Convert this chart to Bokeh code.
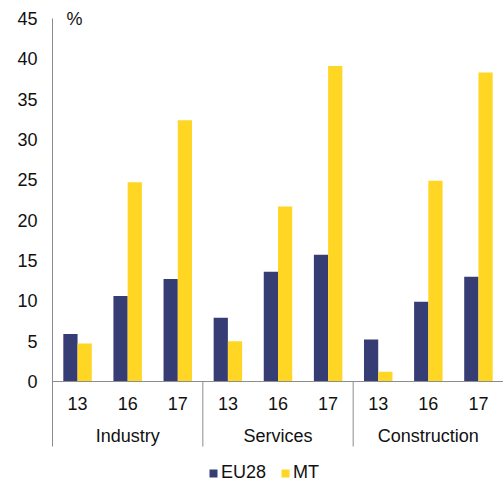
from bokeh.plotting import figure
from bokeh.models import FactorRange, Range1d, FixedTicker, Span, Label, Legend, ColumnDataSource
from bokeh.transform import dodge
from bokeh.core.properties import value
from bokeh.embed import file_html
from bokeh.resources import INLINE

# sectors and years shown on the category axis
groups = ["Industry", "Services", "Construction"]
years = ["13", "16", "17"]

# values in %, one per sector/year
eu28 = [5.9, 10.6, 12.7, 7.9, 13.6, 15.7, 5.2, 9.9, 13.0]
mt = [4.7, 24.7, 32.4, 5.0, 21.7, 39.1, 1.2, 24.9, 38.3]

y_ticks = [0, 5, 10, 15, 20, 25, 30, 35, 40, 45]

navy = "#363C74"
yellow = "#FFD624"
grey = "#8C8C8C"
txt = "#111111"
font = "Liberation Sans"

# the frame goes on below zero to hold the category labels and the legend
y_top = 45
y_end = 46.24
y_sep = -8.06
y_bottom = -12.64

factors = [(g, y) for g in groups for y in years]
src = ColumnDataSource(data=dict(x=factors, eu28=eu28, mt=mt, year=[f[1] for f in factors],
                                 zero=[0] * len(factors)))

p = figure(x_range=FactorRange(factors=factors, factor_padding=0, group_padding=0, range_padding=0),
           y_range=Range1d(start=y_bottom, end=y_end),
           width=503, height=483, output_backend="svg", toolbar_location=None,
           min_border_left=52, min_border_top=8, min_border_right=0, min_border_bottom=0)
p.outline_line_color = None
p.xgrid.visible = False
p.ygrid.visible = False
p.xaxis.visible = False

# y axis, its line runs on down as the left edge of the first group
p.yaxis.ticker = FixedTicker(ticks=y_ticks)
p.yaxis.bounds = (y_sep, y_top)
p.yaxis.axis_line_color = grey
p.yaxis.major_tick_line_color = None
p.yaxis.minor_tick_line_color = None
p.yaxis.major_tick_out = 0
p.yaxis.major_label_standoff = 15
p.yaxis.major_label_text_font = font
p.yaxis.major_label_text_font_size = "18px"
p.yaxis.major_label_text_color = txt

# bars
r1 = p.vbar(x=dodge("x", -0.142, range=p.x_range), top="eu28", width=0.284,
            source=src, fill_color=navy, line_color=None)
r2 = p.vbar(x=dodge("x", 0.142, range=p.x_range), top="mt", width=0.284,
            source=src, fill_color=yellow, line_color=None)

# horizontal axis line and group separators (left edge of each later group)
p.add_layout(Span(location=0, dimension="width", line_color=grey, line_width=1))
sep = ColumnDataSource(data=dict(x=[(g, years[0]) for g in groups[1:]],
                                 y0=[0] * (len(groups) - 1),
                                 y1=[y_sep] * (len(groups) - 1)))
p.segment(x0=dodge("x", -0.5, range=p.x_range), x1=dodge("x", -0.5, range=p.x_range),
          y0="y0", y1="y1", source=sep, line_color=grey, line_width=1)

# category labels
p.text(x="x", y="zero", text="year", source=src, y_offset=22,
       text_align="center", text_baseline="middle", text_font=value(font),
       text_font_size="18px", text_color=txt)
mid = ColumnDataSource(data=dict(x=[(g, years[len(years) // 2]) for g in groups],
                                 name=groups, zero=[0] * len(groups)))
p.text(x="x", y="zero", text="name", source=mid, y_offset=54,
       text_align="center", text_baseline="middle", text_font=value(font),
       text_font_size="18px", text_color=txt)

p.add_layout(Label(x=14, x_units="screen", y=y_top, text="%", text_baseline="middle",
                   text_font=font, text_font_size="18px", text_color=txt))

legend = Legend(items=[("EU28", [r1]), ("MT", [r2])], orientation="horizontal",
                location=(156, 0), glyph_width=10, glyph_height=10,
                label_standoff=3, spacing=14, padding=0, margin=0, label_height=16,
                label_text_font=font, label_text_font_size="18px",
                label_text_color=txt, border_line_color=None,
                background_fill_alpha=0)
p.add_layout(legend)

open("out.html", "w").write(file_html(p, INLINE))
